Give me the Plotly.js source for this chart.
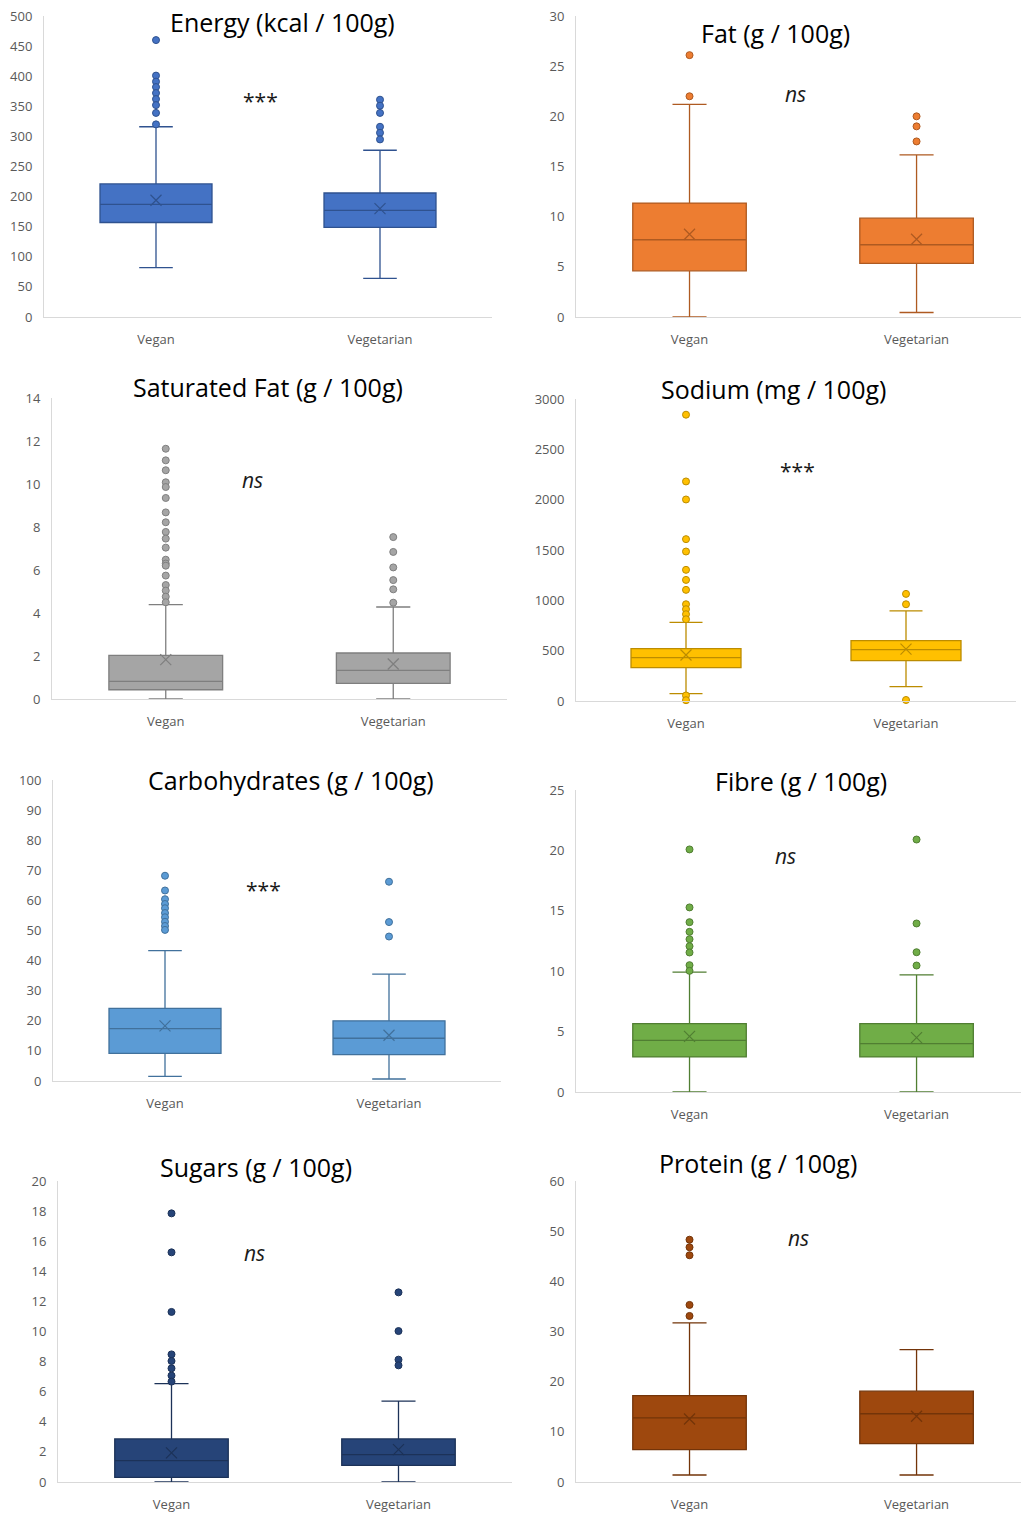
<!DOCTYPE html>
<html>
<head>
<meta charset="utf-8">
<script src="https://cdn.plot.ly/plotly-3.0.1.min.js"></script>
<style>
html,body{margin:0;padding:0;background:#fff;}
#chart{width:1021px;height:1514px;}
</style>
</head>
<body>
<div id="chart"></div>
<script>
// ---------- DATA ----------
const categories = ['Vegan', 'Vegetarian'];

const titles = ['Energy (kcal / 100g)', 'Fat (g / 100g)', 'Saturated Fat (g / 100g)', 'Sodium (mg / 100g)',
                'Carbohydrates (g / 100g)', 'Fibre (g / 100g)', 'Sugars (g / 100g)', 'Protein (g / 100g)'];
const significance = ['***', 'ns', 'ns', '***', '***', 'ns', 'ns', 'ns'];

// Energy
const energyQ1 = [157, 149];
const energyMedian = [187, 177];
const energyQ3 = [221, 206];
const energyLower = [82, 64];
const energyUpper = [316, 277];
const energyMean = [194, 180];
const energyVeganOutliers = [460, 401, 391, 382, 372, 362, 352, 339, 320];
const energyVegetarianOutliers = [361, 351, 339, 316, 306, 295];

// Fat
const fatQ1 = [4.6, 5.35];
const fatMedian = [7.7, 7.2];
const fatQ3 = [11.35, 9.85];
const fatLower = [0, 0.45];
const fatUpper = [21.2, 16.15];
const fatMean = [8.25, 7.75];
const fatVeganOutliers = [26.1, 22.0];
const fatVegetarianOutliers = [20.0, 19.0, 17.5];

// Saturated fat
const satQ1 = [0.43, 0.73];
const satMedian = [0.82, 1.33];
const satQ3 = [2.03, 2.14];
const satLower = [0, 0];
const satUpper = [4.39, 4.28];
const satMean = [1.83, 1.63];
const satVeganOutliers = [11.64, 11.1, 10.64, 10.08, 9.86, 9.35, 8.68, 8.22, 7.77, 7.46, 7.04, 6.48, 6.3, 6.2, 5.74, 5.3, 5.04, 4.76, 4.5];
const satVegetarianOutliers = [7.53, 6.84, 6.12, 5.53, 5.1, 4.48];

// Sodium
const sodiumQ1 = [331, 401];
const sodiumMedian = [431, 510];
const sodiumQ3 = [520, 600];
const sodiumLower = [73, 143];
const sodiumUpper = [782, 895];
const sodiumMean = [457, 515];
const sodiumVeganOutliers = [2844, 2181, 2002, 1608, 1485, 1303, 1203, 1104, 961, 912, 862, 812, 55, 8];
const sodiumVegetarianOutliers = [1064, 961, 10];

// Carbohydrates
const carbQ1 = [9.2, 8.75];
const carbMedian = [17.4, 14.2];
const carbQ3 = [24.1, 20.0];
const carbLower = [1.55, 0.66];
const carbUpper = [43.3, 35.5];
const carbMean = [18.3, 15.2];
const carbVeganOutliers = [68.2, 63.3, 60.4, 58.8, 57.4, 55.8, 54.4, 52.9, 51.5, 50.2];
const carbVegetarianOutliers = [66.2, 52.8, 48.0];

// Fibre
const fibreQ1 = [2.9, 2.9];
const fibreMedian = [4.28, 4.0];
const fibreQ3 = [5.66, 5.66];
const fibreLower = [0, 0];
const fibreUpper = [9.92, 9.7];
const fibreMean = [4.61, 4.5];
const fibreVeganOutliers = [20.08, 15.28, 14.06, 13.26, 12.65, 12.07, 11.55, 10.5, 10.03];
const fibreVegetarianOutliers = [20.9, 13.95, 11.57, 10.47];

// Sugars
const sugarQ1 = [0.31, 1.11];
const sugarMedian = [1.42, 1.82];
const sugarQ3 = [2.86, 2.86];
const sugarLower = [0, 0];
const sugarUpper = [6.53, 5.38];
const sugarMean = [1.93, 2.15];
const sugarVeganOutliers = [17.85, 15.26, 11.3, 8.48, 8.04, 7.55, 7.07, 6.67];
const sugarVegetarianOutliers = [12.6, 10.03, 8.13, 7.75];

// Protein
const proteinQ1 = [6.45, 7.64];
const proteinMedian = [12.8, 13.6];
const proteinQ3 = [17.2, 18.1];
const proteinLower = [1.4, 1.4];
const proteinUpper = [31.7, 26.4];
const proteinMean = [12.56, 13.1];
const proteinVeganOutliers = [48.3, 46.8, 45.2, 35.3, 33.1];
const proteinVegetarianOutliers = [];

// ---------- STYLE / LAYOUT ----------
const W = 1021, H = 1514;
const stats = [
  [energyQ1, energyMedian, energyQ3, energyLower, energyUpper, energyMean, energyVeganOutliers, energyVegetarianOutliers],
  [fatQ1, fatMedian, fatQ3, fatLower, fatUpper, fatMean, fatVeganOutliers, fatVegetarianOutliers],
  [satQ1, satMedian, satQ3, satLower, satUpper, satMean, satVeganOutliers, satVegetarianOutliers],
  [sodiumQ1, sodiumMedian, sodiumQ3, sodiumLower, sodiumUpper, sodiumMean, sodiumVeganOutliers, sodiumVegetarianOutliers],
  [carbQ1, carbMedian, carbQ3, carbLower, carbUpper, carbMean, carbVeganOutliers, carbVegetarianOutliers],
  [fibreQ1, fibreMedian, fibreQ3, fibreLower, fibreUpper, fibreMean, fibreVeganOutliers, fibreVegetarianOutliers],
  [sugarQ1, sugarMedian, sugarQ3, sugarLower, sugarUpper, sugarMean, sugarVeganOutliers, sugarVegetarianOutliers],
  [proteinQ1, proteinMedian, proteinQ3, proteinLower, proteinUpper, proteinMean, proteinVeganOutliers, proteinVegetarianOutliers]
];
const fills = ['#4472C4', '#ED7D31', '#A5A5A5', '#FFC000', '#5B9BD5', '#70AD47', '#264478', '#9E480E'];
const lines = ['#2F528F', '#AE5A21', '#7F7F7F', '#BC8C00', '#41719C', '#507E32', '#1C3258', '#733409'];
// pixel frames: [x0, x1, yTop, yBottom], y max, dtick, x range end
const frames = [
  [44, 492, 16, 317, 500, 50, 1.5],
  [576, 1021, 16, 317, 30, 5, 1.46],
  [52, 507, 398, 699, 14, 2, 1.5],
  [576, 1016, 399, 701, 3000, 500, 1.5],
  [53, 501, 780, 1081, 100, 10, 1.5],
  [576, 1021, 790, 1092, 25, 5, 1.46],
  [58, 512, 1181, 1482, 20, 2, 1.5],
  [576, 1021, 1181, 1482, 60, 10, 1.46]
];
// title centre (px), significance mark centre (px)
const titlePos = [[282, 22], [775, 33], [268, 387], [773, 389], [291, 780], [801, 781], [256, 1167], [758, 1163]];
const sigPos = [[260, 101], [795, 94], [252, 480], [797, 471], [263, 890], [785, 856], [254, 1253], [798, 1238]];

const FONT = 'Open Sans, Lato, sans-serif';
const traces = [];
const layout = {
  width: W, height: H,
  margin: {l: 0, r: 0, t: 0, b: 0},
  paper_bgcolor: '#ffffff', plot_bgcolor: '#ffffff',
  showlegend: false,
  font: {family: FONT, color: '#595959'},
  annotations: []
};

stats.forEach((s, i) => {
  const n = i + 1;
  const xa = 'x' + (n === 1 ? '' : n), ya = 'y' + (n === 1 ? '' : n);
  const [q1, med, q3, lo, hi, mean, outV, outG] = s;
  traces.push({
    type: 'box', xaxis: xa, yaxis: ya,
    x: categories, q1: q1, median: med, q3: q3, lowerfence: lo, upperfence: hi,
    boxpoints: false, width: 0.5, whiskerwidth: 0.3,
    fillcolor: fills[i], line: {color: lines[i], width: 1.3},
    hoverinfo: 'skip'
  });
  traces.push({
    type: 'scatter', mode: 'markers', xaxis: xa, yaxis: ya,
    x: outV.map(() => categories[0]).concat(outG.map(() => categories[1])),
    y: outV.concat(outG),
    marker: {symbol: 'circle', size: 7, color: fills[i], line: {color: lines[i], width: 1}},
    cliponaxis: false, hoverinfo: 'skip'
  });
  traces.push({
    type: 'scatter', mode: 'markers', xaxis: xa, yaxis: ya,
    x: categories, y: mean,
    marker: {symbol: 'x-thin-open', size: 11, color: lines[i], line: {color: lines[i], width: 1.2}},
    hoverinfo: 'skip'
  });
  const f = frames[i];
  const xKey = 'xaxis' + (n === 1 ? '' : n), yKey = 'yaxis' + (n === 1 ? '' : n);
  layout[xKey] = {
    domain: [f[0] / W, f[1] / W], anchor: ya,
    type: 'category', categoryorder: 'array', categoryarray: categories,
    range: [-0.5, f[6]],
    showline: true, linecolor: '#D9D9D9', linewidth: 1,
    showgrid: false, zeroline: false,
    ticks: 'outside', ticklen: 10, tickcolor: 'rgba(0,0,0,0)',
    tickfont: {family: FONT, size: 13, color: '#595959'},
    fixedrange: true
  };
  layout[yKey] = {
    domain: [1 - f[3] / H, 1 - f[2] / H], anchor: xa,
    range: [0, f[4]], dtick: f[5], tick0: 0,
    showline: true, linecolor: '#D9D9D9', linewidth: 1,
    showgrid: false, zeroline: false,
    ticks: 'outside', ticklen: 8, tickcolor: 'rgba(0,0,0,0)',
    tickfont: {family: FONT, size: 13, color: '#595959'},
    fixedrange: true
  };
  layout.annotations.push({
    xref: 'paper', yref: 'paper', x: titlePos[i][0] / W, y: 1 - titlePos[i][1] / H,
    xanchor: 'center', yanchor: 'middle', showarrow: false,
    text: titles[i], font: {family: FONT, size: 25, color: '#000000'}
  });
  const sig = significance[i];
  layout.annotations.push({
    xref: 'paper', yref: 'paper', x: sigPos[i][0] / W, y: 1 - sigPos[i][1] / H,
    xanchor: 'center', yanchor: 'middle', showarrow: false,
    text: sig === 'ns' ? '<i>ns</i>' : sig,
    font: {family: FONT, size: sig === 'ns' ? 21 : 21, color: '#1a1a1a'}
  });
});

Plotly.newPlot('chart', traces, layout, {displayModeBar: false, staticPlot: true});
</script>
</body>
</html>
